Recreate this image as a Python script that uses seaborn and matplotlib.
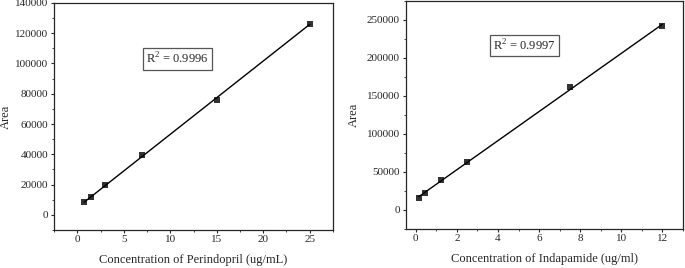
import numpy as np
import pandas as pd
import matplotlib
matplotlib.use("Agg")
import matplotlib.pyplot as plt
from matplotlib.ticker import MultipleLocator
import seaborn as sns

# Perindopril calibration
peri_conc = [0.75, 1.5, 3, 7, 15, 25]
peri_area = [8200, 11800, 19800, 39500, 76000, 126400]
peri_r2 = "0.9996"

# Indapamide calibration
inda_conc = [0.15, 0.45, 1.25, 2.5, 7.5, 12]
inda_area = [15900, 21600, 38900, 63100, 160900, 242000]
inda_r2 = "0.9997"


def calib_panel(ax, conc, area, r2, xlabel, xlim, ylim, xmaj, ymaj, box_xy, ylab_x):
    df = pd.DataFrame({"conc": conc, "area": area})
    sns.regplot(data=df, x="conc", y="area", ax=ax, ci=None, marker="s",
                color="black", scatter_kws={"s": 22, "linewidths": 0},
                line_kws={"linewidth": 1.0})
    ax.set_xlim(*xlim)
    ax.set_ylim(*ylim)
    ax.xaxis.set_major_locator(MultipleLocator(xmaj))
    ax.xaxis.set_minor_locator(MultipleLocator(xmaj / 2))
    ax.yaxis.set_major_locator(MultipleLocator(ymaj))
    ax.yaxis.set_minor_locator(MultipleLocator(ymaj / 2))
    ax.tick_params(which="major", direction="out", length=2.5, width=0.8, labelsize=8, pad=1.5)
    ax.tick_params(which="minor", direction="out", length=1.5, width=0.6)
    for sp in ax.spines.values():
        sp.set_visible(True)
        sp.set_linewidth(0.9)
    ax.set_xlabel(xlabel, fontsize=9, labelpad=7)
    ax.set_ylabel("Area", fontsize=9)
    ax.yaxis.set_label_coords(ylab_x, 0.5)
    ax.text(box_xy[0], box_xy[1], r"R$^2$ = " + r2, fontsize=9, ha="center", va="center",
            bbox=dict(boxstyle="square,pad=0.25", facecolor="white", edgecolor="#555555", linewidth=0.9))


def main():
    sns.set_style("ticks")
    plt.rcParams["font.family"] = ["Liberation Serif", "DejaVu Serif"]
    plt.rcParams["mathtext.fontset"] = "custom"
    plt.rcParams["mathtext.rm"] = "Liberation Serif"

    fig = plt.figure(figsize=(6.85, 2.68), dpi=100)
    ax1 = fig.add_axes([0.079, 0.142, 0.407, 0.847])
    ax2 = fig.add_axes([0.592, 0.147, 0.405, 0.850])

    calib_panel(ax1, peri_conc, peri_area, peri_r2, "Concentration of Perindopril (ug/mL)",
                (-2.5, 27.5), (-10000, 140000), 5, 20000, (10.75, 103000), -0.151)
    calib_panel(ax2, inda_conc, inda_area, inda_r2, "Concentration of Indapamide (ug/ml)",
                (-0.5, 13), (-25000, 275000), 2, 50000, (5.3, 216000), -0.165)

    fig.savefig("out.png", dpi=100)


if __name__ == "__main__":
    main()
